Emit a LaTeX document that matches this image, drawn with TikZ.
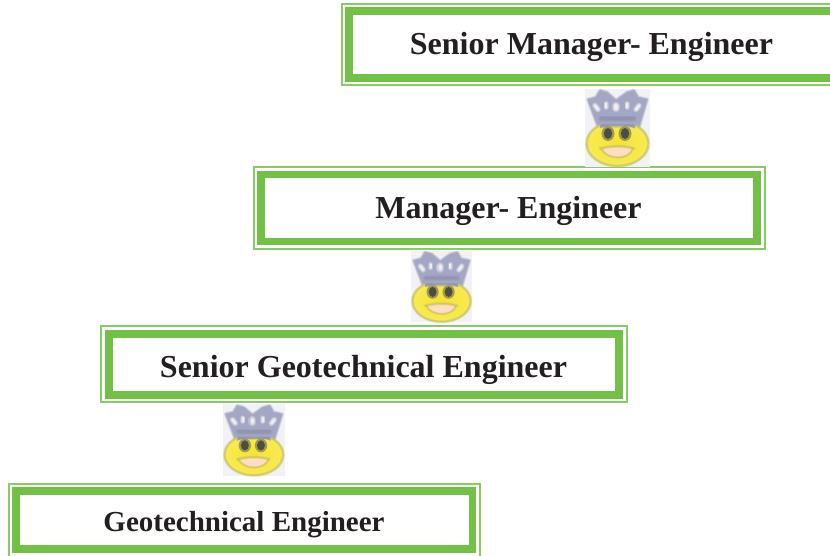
\documentclass[tikz,border=0pt]{standalone}
\usepackage{fontspec}
\setmainfont{Liberation Serif}
\definecolor{gthick}{HTML}{72C046}
\definecolor{gthin}{HTML}{86CC64}
\definecolor{ink}{HTML}{231F20}
\definecolor{crowncol}{HTML}{A4A7C4}
\definecolor{crowndark}{HTML}{8E92AC}
\definecolor{faceyel}{HTML}{F6E52A}
\definecolor{faceedge}{HTML}{C9C267}
\definecolor{smbg}{HTML}{F2F2F6}
\tikzset{
  thickframe/.style={draw=gthick,line width=7.6pt,fill=white,rectangle,inner sep=0pt,outer sep=0pt},
  thinframe/.style={draw=gthin,line width=2pt,rectangle,inner sep=0pt,outer sep=0pt},
  title/.style={font=\fontsize{#1}{#1}\selectfont\bfseries,text=ink,anchor=base,inner sep=0pt,outer sep=0pt},
}
\newcommand{\gframe}[9]{%
  \node[thinframe,minimum width=#4pt-#2pt,minimum height=#5pt-#3pt] (#1o) at ({(#2+#4)/2},{(#3+#5)/2}) {};
  \node[thickframe,minimum width=#8pt-#6pt,minimum height=#9pt-#7pt] (#1) at ({(#6+#8)/2},{(#7+#9)/2}) {};
}
\newcommand{\soft}[3]{%
  \draw[#1,line width=#2*2.0pt,opacity=.25,line join=round,line cap=round] #3;
  \draw[#1,line width=#2*1.4pt,opacity=.35,line join=round,line cap=round] #3;
  \draw[#1,line width=#2*0.8pt,opacity=.6,line join=round,line cap=round] #3;
}
\newcommand{\smiley}[4]{%
\begin{scope}[shift={(#1,#2)},xscale=#3,yscale=#4]
  \fill[smbg] (0,0) rectangle (65,78);
  % crown silhouette
  \fill[crowncol,line join=round] (3,11) -- (11,9) -- (15,2) -- (22,4) -- (31,12) -- (42,4) -- (49,2) -- (53,9) -- (62,11) -- (54,38) -- (13,38) -- cycle;
  \soft{crowncol}{2pt}{(3,11) -- (11,9) -- (15,2) -- (22,4) -- (31,12) -- (42,4) -- (49,2) -- (53,9) -- (62,11) -- (54,38) -- (13,38) -- cycle}
  % pale gaps in the crown
  \soft{white}{3pt}{(10,17) -- (13,21)}
  \soft{white}{3pt}{(54,17) -- (51,21)}
  \soft{white}{4pt}{(31,17) -- (31,20)}
  \soft{white}{2.5pt}{(21,15) -- (21,19)}
  \soft{white}{2.5pt}{(42,15) -- (42,19)}
  % face
  \shade[inner color=faceyel,outer color=faceyel!80!white] (32.5,55) ellipse (31 and 22.5);
  \soft{faceedge}{1.6pt}{(32.5,55) ellipse (31 and 22.5)}
  % band
  \fill[crowncol] (14,26) -- (52,26) -- (50,40) .. controls (40,35) and (25,35) .. (15,40) -- cycle;
  \soft{crowndark}{3pt}{(16,30) -- (49,30)}
  \soft{crowndark}{2pt}{(17,37) -- (48,37)}
  % eyes
  \fill[faceedge!80!black] (23,45) ellipse (6.5 and 7.5);
  \fill[faceedge!80!black] (40,45) ellipse (6.5 and 7.5);
  \fill[black!75,opacity=.85] (23,45) ellipse (4.2 and 5.5);
  \fill[black!75,opacity=.85] (40,45) ellipse (4.2 and 5.5);
  % mouth
  \fill[white!85!red!90!yellow] (16,60) .. controls (28,57) and (38,57) .. (48,60) .. controls (44,72) and (22,72) .. cycle;
  \soft{faceedge}{1.6pt}{(15,60) .. controls (28,57) and (38,57) .. (49,60)}
  \soft{faceedge}{1.2pt}{(48,60) .. controls (44,72) and (22,72) .. (16,60)}
\end{scope}}
\begin{document}
\begin{tikzpicture}[x=1pt,y=-1pt]
\useasboundingbox (0,0) rectangle (830,555);
\clip (0,0) rectangle (830,555);
\fill[white] (0,0) rectangle (830,555);
\gframe{a}{342.0}{4.2}{880}{85}{349}{10.7}{860}{78}
\gframe{b}{253.7}{167}{764.7}{249}{261}{174.3}{757}{241.3}
\gframe{c}{101.3}{326.3}{626.7}{401.7}{109}{333.7}{619}{394.7}
\gframe{d}{8.5}{483.7}{480}{570}{16}{490.8}{472.5}{548.8}
\smiley{585}{88.5}{1}{1}
\smiley{411}{250.5}{.94}{.92}
\smiley{223}{404}{.95}{.92}
\node[title=32] (ta) at (591.5,54) {Senior Manager- Engineer};
\node[title=32] (tb) at (508.5,218) {Manager- Engineer};
\node[title=32] (tc) at (363.5,377) {Senior Geotechnical Engineer};
\node[title=29] (td) at (244,531.5) {Geotechnical Engineer};
\end{tikzpicture}
\end{document}
